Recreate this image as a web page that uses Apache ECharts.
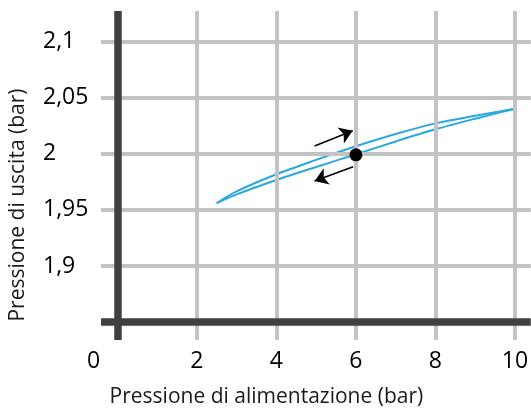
<!DOCTYPE html>
<html><head><meta charset="utf-8">
<script src="https://cdn.jsdelivr.net/npm/echarts@6/dist/echarts.min.js"></script>
<style>html,body{margin:0;padding:0;background:#fff}#c{width:531px;height:417px}</style>
</head><body><div id="c"></div>
<script>
// tick labels
const xTicks = [0, 2, 4, 6, 8, 10];
const yTicks = [1.9, 1.95, 2, 2.05, 2.1];
// supply pressure (bar)
const supply = [2.5, 3, 4, 5, 6, 7, 8, 9, 10];
// outlet pressure, rising branch (upper) and falling branch (lower)
const outRising  = [1.956, 1.9665, 1.9817, 1.9945, 2.0066, 2.0175, 2.027, 2.0338, 2.04];
const outFalling = [1.956, 1.9638, 1.9766, 1.9882, 1.9995, 2.0109, 2.0217, 2.0311, 2.04];
// operating point
const opPoint = [6, 1.999];
// direction arrows [from, to]
const arrowRise = [[4.96, 2.0069], [5.92, 2.0205]];
const arrowFall = [[5.93, 1.9884], [4.96, 1.9757]];
// main axis lines
const xZero = 0, yBase = 1.85;

const FONT = '"Open Sans", "Noto Sans", sans-serif';
const chart = echarts.init(document.getElementById('c'), null, {renderer: 'canvas'});
const gridLines = [];
xTicks.filter(v => v !== xZero).forEach(v => gridLines.push({xAxis: v}));
yTicks.forEach(v => gridLines.push({yAxis: v}));

chart.setOption({
  animation: false,
  backgroundColor: '#fff',
  grid: {left: 100, right: 0, top: 11, bottom: 77, containLabel: false},
  xAxis: {
    type: 'value', min: -0.414, max: 10.40,
    axisLine: {show: false}, axisTick: {show: false}, splitLine: {show: false},
    axisLabel: {
      customValues: xTicks, fontSize: 23, color: '#000', fontFamily: FONT, margin: 10,
      formatter: v => v === 0 ? '{z|0}' : String(v),
      rich: {z: {fontSize: 23, color: '#000', fontFamily: FONT, padding: [0, 48, 0, 0]}}
    },
    name: 'Pressione di alimentazione (bar)', nameLocation: 'middle', nameGap: 47,
    nameTextStyle: {fontSize: 21, color: '#1a1a1a', fontFamily: FONT, padding: [0, 99, 0, 0]}
  },
  yAxis: {
    type: 'value', min: 1.8342, max: 2.127,
    axisLine: {show: false}, axisTick: {show: false}, splitLine: {show: false},
    axisLabel: {
      customValues: yTicks, fontSize: 23, color: '#000', fontFamily: FONT, margin: 58, align: 'left',
      formatter: v => String(v).replace('.', ',')
    },
    name: 'Pressione di uscita (bar)', nameLocation: 'middle', nameGap: 72, nameRotate: 90,
    nameTextStyle: {fontSize: 21, color: '#1a1a1a', fontFamily: FONT, padding: [0, 59, 0, 0]}
  },
  series: [
    {
      type: 'line', data: [], z: 1, silent: true,
      markLine: {silent: true, symbol: ['none', 'none'], label: {show: false},
        lineStyle: {color: '#c3c3c3', width: 4, type: 'solid'}, data: gridLines}
    },
    {
      type: 'line', data: [], z: 2, silent: true,
      markLine: {silent: true, symbol: ['none', 'none'], label: {show: false},
        lineStyle: {color: '#404040', width: 7.5, type: 'solid'},
        data: [{xAxis: xZero}, {yAxis: yBase}]}
    },
    {
      type: 'line', z: 3, smooth: 0.3, showSymbol: false, silent: true,
      lineStyle: {color: '#29a8e0', width: 2},
      data: supply.map((x, i) => [x, outRising[i]])
    },
    {
      type: 'line', z: 3, smooth: 0.3, showSymbol: false, silent: true,
      lineStyle: {color: '#29a8e0', width: 2},
      data: supply.map((x, i) => [x, outFalling[i]])
    },
    {
      type: 'line', data: [], z: 4, silent: true,
      markLine: {silent: true, symbol: ['none', 'arrow'], symbolSize: 13, label: {show: false},
        lineStyle: {color: '#000', width: 1.6, type: 'solid', curveness: -0.08},
        data: [
          [{coord: arrowRise[0]}, {coord: arrowRise[1]}],
          [{coord: arrowFall[0]}, {coord: arrowFall[1]}]
        ]}
    },
    {
      type: 'scatter', z: 5, silent: true, symbol: 'circle', symbolSize: 13,
      itemStyle: {color: '#000', opacity: 1}, data: [opPoint]
    }
  ]
});
</script></body></html>
